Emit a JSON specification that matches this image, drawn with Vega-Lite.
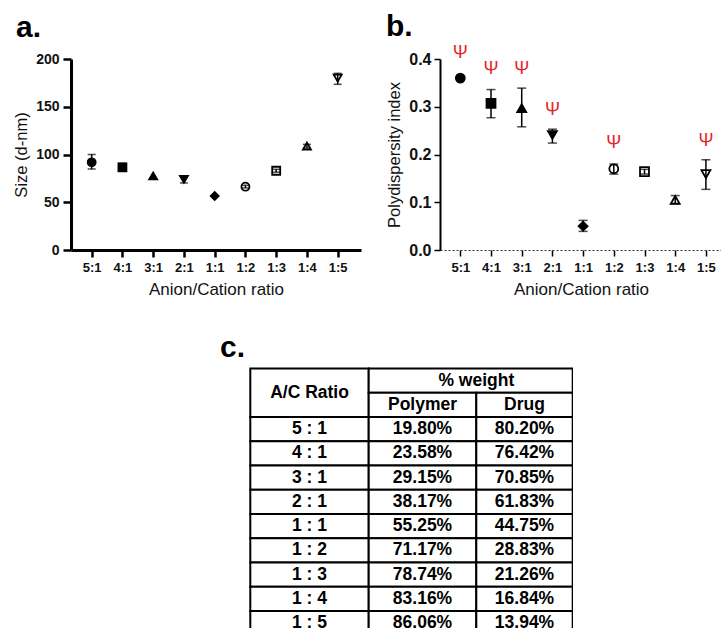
{
  "$schema": "https://vega.github.io/schema/vega-lite/v6.json",
  "background": "white",
  "padding": {"left": 13, "top": 12, "right": 0, "bottom": 0},
  "config": {
    "view": {"stroke": null},
    "font": "Liberation Sans",
    "axis": {
      "labelFont": "Liberation Sans", "labelFontWeight": "bold", "labelColor": "#111111",
      "titleFont": "Liberation Sans", "titleFontWeight": "normal", "titleColor": "#111111",
      "grid": false, "domainColor": "black", "tickColor": "black"
    }
  },
  "datasets": {
    "pts": [
      {"ratio": "5:1", "size": 91.8, "size_lo": 84.8, "size_hi": 100.0, "pdi": 0.360, "pdi_lo": null, "pdi_hi": null},
      {"ratio": "4:1", "size": 86.6, "size_lo": 82.5, "size_hi": 90.8, "pdi": 0.307, "pdi_lo": 0.277, "pdi_hi": 0.336},
      {"ratio": "3:1", "size": 77.5, "size_lo": null, "size_hi": null, "pdi": 0.297, "pdi_lo": 0.258, "pdi_hi": 0.339},
      {"ratio": "2:1", "size": 74.0, "size_lo": 70.2, "size_hi": 76.8, "pdi": 0.241, "pdi_lo": 0.224, "pdi_hi": 0.253},
      {"ratio": "1:1", "size": 56.5, "size_lo": null, "size_hi": null, "pdi": 0.050, "pdi_lo": 0.039, "pdi_hi": 0.062},
      {"ratio": "1:2", "size": 66.3, "size_lo": 65.0, "size_hi": 67.8, "pdi": 0.170, "pdi_lo": 0.159, "pdi_hi": 0.180},
      {"ratio": "1:3", "size": 83.0, "size_lo": 81.5, "size_hi": 84.5, "pdi": 0.164, "pdi_lo": 0.159, "pdi_hi": 0.169},
      {"ratio": "1:4", "size": 108.8, "size_lo": 106.6, "size_hi": 110.6, "pdi": 0.105, "pdi_lo": 0.097, "pdi_hi": 0.114},
      {"ratio": "1:5", "size": 180.0, "size_lo": 173.5, "size_hi": 185.0, "pdi": 0.159, "pdi_lo": 0.127, "pdi_hi": 0.189}
    ],
    "psi": [
      {"ratio": "5:1", "pos": 0.412},
      {"ratio": "4:1", "pos": 0.379},
      {"ratio": "3:1", "pos": 0.379},
      {"ratio": "2:1", "pos": 0.293},
      {"ratio": "1:2", "pos": 0.225},
      {"ratio": "1:5", "pos": 0.228}
    ],
    "cells": [
      {"t": "A/C Ratio", "col_start": 0, "col_end": 1, "row_start": 0, "row_end": 2},
      {"t": "% weight", "col_start": 1, "col_end": 3, "row_start": 0, "row_end": 1},
      {"t": "Polymer", "col_start": 1, "col_end": 2, "row_start": 1, "row_end": 2},
      {"t": "Drug", "col_start": 2, "col_end": 3, "row_start": 1, "row_end": 2},
      {"t": "5 : 1", "col_start": 0, "col_end": 1, "row_start": 2, "row_end": 3},
      {"t": "19.80%", "col_start": 1, "col_end": 2, "row_start": 2, "row_end": 3},
      {"t": "80.20%", "col_start": 2, "col_end": 3, "row_start": 2, "row_end": 3},
      {"t": "4 : 1", "col_start": 0, "col_end": 1, "row_start": 3, "row_end": 4},
      {"t": "23.58%", "col_start": 1, "col_end": 2, "row_start": 3, "row_end": 4},
      {"t": "76.42%", "col_start": 2, "col_end": 3, "row_start": 3, "row_end": 4},
      {"t": "3 : 1", "col_start": 0, "col_end": 1, "row_start": 4, "row_end": 5},
      {"t": "29.15%", "col_start": 1, "col_end": 2, "row_start": 4, "row_end": 5},
      {"t": "70.85%", "col_start": 2, "col_end": 3, "row_start": 4, "row_end": 5},
      {"t": "2 : 1", "col_start": 0, "col_end": 1, "row_start": 5, "row_end": 6},
      {"t": "38.17%", "col_start": 1, "col_end": 2, "row_start": 5, "row_end": 6},
      {"t": "61.83%", "col_start": 2, "col_end": 3, "row_start": 5, "row_end": 6},
      {"t": "1 : 1", "col_start": 0, "col_end": 1, "row_start": 6, "row_end": 7},
      {"t": "55.25%", "col_start": 1, "col_end": 2, "row_start": 6, "row_end": 7},
      {"t": "44.75%", "col_start": 2, "col_end": 3, "row_start": 6, "row_end": 7},
      {"t": "1 : 2", "col_start": 0, "col_end": 1, "row_start": 7, "row_end": 8},
      {"t": "71.17%", "col_start": 1, "col_end": 2, "row_start": 7, "row_end": 8},
      {"t": "28.83%", "col_start": 2, "col_end": 3, "row_start": 7, "row_end": 8},
      {"t": "1 : 3", "col_start": 0, "col_end": 1, "row_start": 8, "row_end": 9},
      {"t": "78.74%", "col_start": 1, "col_end": 2, "row_start": 8, "row_end": 9},
      {"t": "21.26%", "col_start": 2, "col_end": 3, "row_start": 8, "row_end": 9},
      {"t": "1 : 4", "col_start": 0, "col_end": 1, "row_start": 9, "row_end": 10},
      {"t": "83.16%", "col_start": 1, "col_end": 2, "row_start": 9, "row_end": 10},
      {"t": "16.84%", "col_start": 2, "col_end": 3, "row_start": 9, "row_end": 10},
      {"t": "1 : 5", "col_start": 0, "col_end": 1, "row_start": 10, "row_end": 11},
      {"t": "86.06%", "col_start": 1, "col_end": 2, "row_start": 10, "row_end": 11},
      {"t": "13.94%", "col_start": 2, "col_end": 3, "row_start": 10, "row_end": 11}
    ]
  },
  "spacing": 36,
  "vconcat": [
    {
      "bounds": "flush",
      "spacing": 79,
      "hconcat": [
        {
          "width": 290,
          "height": 191,
          "title": {"text": "a.", "anchor": "start", "frame": "group", "dx": -55, "fontSize": 30, "fontWeight": "bold", "color": "black", "font": "Liberation Sans", "baseline": "alphabetic", "offset": -15},
          "data": {"name": "pts"},
          "encoding": {
            "x": {
              "field": "ratio", "type": "nominal",
              "sort": ["5:1", "4:1", "3:1", "2:1", "1:1", "1:2", "1:3", "1:4", "1:5"],
              "scale": {"type": "point", "padding": 0.715, "align": 0.47},
              "axis": {"title": "Anion/Cation ratio", "labelAngle": 0, "labelFontSize": 13, "titleFontSize": 17, "tickSize": 7, "tickWidth": 2.5, "domainWidth": 3, "labelPadding": 4, "titlePadding": 7}
            }
          },
          "layer": [
            {
              "mark": {"type": "point", "size": 64, "stroke": "black", "strokeWidth": 1.8, "opacity": 1},
              "encoding": {
                "y": {"field": "size", "type": "quantitative", "title": "Size (d-nm)",
                  "scale": {"domain": [0, 200], "nice": false},
                  "axis": {"values": [0, 50, 100, 150, 200], "labelFontSize": 14, "titleFontSize": 16.5, "tickSize": 8, "tickWidth": 2.5, "domainWidth": 3, "labelPadding": 4, "titlePadding": 6}},
                "shape": {"field": "ratio", "type": "nominal", "legend": null,
                  "scale": {"domain": ["5:1", "4:1", "3:1", "2:1", "1:1", "1:2", "1:3", "1:4", "1:5"], "range": ["circle", "square", "triangle-up", "triangle-down", "diamond", "circle", "square", "triangle-up", "triangle-down"]}},
                "fill": {"field": "ratio", "type": "nominal", "legend": null,
                  "scale": {"domain": ["5:1", "4:1", "3:1", "2:1", "1:1", "1:2", "1:3", "1:4", "1:5"], "range": ["black", "black", "black", "black", "black", "white", "white", "white", "white"]}}
              }
            },
            {
              "transform": [{"filter": "datum.size_lo != null"}],
              "mark": {"type": "errorbar", "ticks": true, "size": 8, "thickness": 1.5, "color": "black"},
              "encoding": {
                "y": {"field": "size_lo", "type": "quantitative", "title": "Size (d-nm)"},
                "y2": {"field": "size_hi"}
              }
            }
          ]
        },
        {
          "width": 282,
          "height": 191,
          "title": {"text": "b.", "anchor": "start", "frame": "group", "dx": -54, "fontSize": 30, "fontWeight": "bold", "color": "black", "font": "Liberation Sans", "baseline": "alphabetic", "offset": -22},
          "data": {"name": "pts"},
          "encoding": {
            "x": {
              "field": "ratio", "type": "nominal",
              "sort": ["5:1", "4:1", "3:1", "2:1", "1:1", "1:2", "1:3", "1:4", "1:5"],
              "scale": {"type": "point", "padding": 0.593, "align": 0.558},
              "axis": {"title": "Anion/Cation ratio", "labelAngle": 0, "labelFontSize": 13, "titleFontSize": 17, "tickSize": 6, "tickWidth": 1.5, "domainWidth": 1.2, "domainDash": [2, 2], "domainColor": "#333333", "labelPadding": 5, "titlePadding": 7}
            }
          },
          "layer": [
            {
              "mark": {"type": "point", "size": 80, "stroke": "black", "strokeWidth": 1.8, "opacity": 1},
              "encoding": {
                "y": {"field": "pdi", "type": "quantitative", "title": "Polydispersity index",
                  "scale": {"domain": [0, 0.4], "nice": false},
                  "axis": {"values": [0, 0.1, 0.2, 0.3, 0.4], "format": ".1f", "labelFontSize": 16, "titleFontSize": 16.5, "tickSize": 6, "tickWidth": 1.5, "domainWidth": 2, "labelPadding": 3, "titlePadding": 6}},
                "shape": {"field": "ratio", "type": "nominal", "legend": null,
                  "scale": {"domain": ["5:1", "4:1", "3:1", "2:1", "1:1", "1:2", "1:3", "1:4", "1:5"], "range": ["circle", "square", "triangle-up", "triangle-down", "diamond", "circle", "square", "triangle-up", "triangle-down"]}},
                "fill": {"field": "ratio", "type": "nominal", "legend": null,
                  "scale": {"domain": ["5:1", "4:1", "3:1", "2:1", "1:1", "1:2", "1:3", "1:4", "1:5"], "range": ["black", "black", "black", "black", "black", "white", "white", "white", "white"]}}
              }
            },
            {
              "transform": [{"filter": "datum.pdi_lo != null"}],
              "mark": {"type": "errorbar", "ticks": true, "size": 9, "thickness": 1.5, "color": "black"},
              "encoding": {
                "y": {"field": "pdi_lo", "type": "quantitative", "title": "Polydispersity index"},
                "y2": {"field": "pdi_hi"}
              }
            },
            {
              "data": {"name": "psi"},
              "mark": {"type": "text", "text": "Ψ", "fontSize": 18, "color": "#e3262b", "font": "Liberation Sans", "baseline": "middle", "align": "center"},
              "encoding": {
                "y": {"field": "pos", "type": "quantitative", "title": "Polydispersity index"}
              }
            }
          ]
        }
      ]
    },
    {
      "width": 502,
      "height": 262,
      "title": {"text": "c.", "anchor": "start", "frame": "group", "dx": 149, "fontSize": 30, "fontWeight": "bold", "color": "black", "font": "Liberation Sans", "baseline": "alphabetic", "offset": -21},
      "data": {"name": "cells"},
      "layer": [
        {
          "mark": {"type": "rect", "fill": "white", "stroke": "black", "strokeWidth": 2, "clip": true},
          "encoding": {
            "x": {"field": "col_start", "type": "quantitative", "axis": null,
              "scale": {"domain": [0, 1, 2, 3], "range": [179.3, 297.7, 405.3, 501.7], "nice": false, "zero": false}},
            "x2": {"field": "col_end"},
            "y": {"field": "row_start", "type": "quantitative", "axis": null,
              "scale": {"domain": [-0.1, 10.7], "range": [0, 262], "nice": false, "zero": false}},
            "y2": {"field": "row_end"}
          }
        },
        {
          "transform": [
            {"fold": ["col_start", "col_end"], "as": ["kx", "xv"]},
            {"fold": ["row_start", "row_end"], "as": ["ky", "yv"]}
          ],
          "mark": {"type": "text", "fontSize": 17.5, "fontWeight": "bold", "color": "black", "font": "Liberation Sans", "align": "center", "baseline": "middle"},
          "encoding": {
            "x": {"aggregate": "mean", "field": "xv", "type": "quantitative", "axis": null,
              "scale": {"domain": [0, 1, 2, 3], "range": [179.3, 297.7, 405.3, 501.7], "nice": false, "zero": false}},
            "y": {"aggregate": "mean", "field": "yv", "type": "quantitative", "axis": null,
              "scale": {"domain": [-0.1, 10.7], "range": [0, 262], "nice": false, "zero": false}},
            "text": {"field": "t", "type": "nominal"}
          }
        }
      ]
    }
  ]
}
